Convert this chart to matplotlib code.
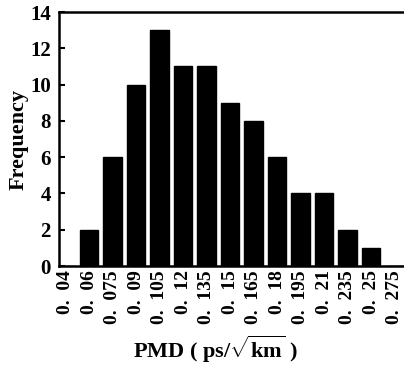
import matplotlib
matplotlib.use("Agg")
import matplotlib.pyplot as plt

# PMD histogram (ps/sqrt(km)); wide space after the point as in the scan
SP = "\u2002"
BIN_LABELS = ["0." + SP + v for v in
              ["04", "06", "075", "09", "105", "12", "135", "15", "165",
               "18", "195", "21", "235", "25", "275"]]
FREQUENCY = [0, 2, 6, 10, 13, 11, 11, 9, 8, 6, 4, 4, 2, 1, 0]
Y_TICKS = [0, 2, 4, 6, 8, 10, 12, 14]

plt.rcParams["font.family"] = "Liberation Serif"
plt.rcParams["font.weight"] = "bold"
plt.rcParams["mathtext.fontset"] = "custom"
plt.rcParams["mathtext.rm"] = "Liberation Serif:bold"

fig = plt.figure(figsize=(4.04, 3.72), dpi=100, facecolor="white")
# right edge runs past the figure, like the cropped scan
ax = fig.add_axes([59 / 404, 1 - 266 / 372, 356 / 404, 254 / 372])

pos = list(range(len(BIN_LABELS)))
ax.bar(pos, FREQUENCY, width=0.8, color="black", edgecolor="black")

ax.set_xlim(-0.28, 14.87)
ax.set_ylim(0, 14)
ax.set_yticks(Y_TICKS)
ax.set_yticklabels([str(t) for t in Y_TICKS], fontsize=15, fontweight="bold")
ax.set_xticks(pos)
ax.set_xticklabels(BIN_LABELS, rotation=90, fontsize=14, fontweight="bold")

ax.tick_params(axis="y", direction="in", length=4, width=1.5, pad=6)
ax.tick_params(axis="x", length=0, pad=3)
for side in ["top", "left", "bottom"]:
    ax.spines[side].set_linewidth(1.8)
ax.spines["right"].set_visible(False)

ax.set_ylabel("Frequency", fontsize=16, fontweight="bold", labelpad=1)
ax.set_xlabel(r"PMD ( ps/$\sqrt{\mathrm{km}}$ )", fontsize=16,
              fontweight="bold")
ax.xaxis.set_label_coords(0.44, -0.265)

fig.savefig("out.png", dpi=100, facecolor="white")
